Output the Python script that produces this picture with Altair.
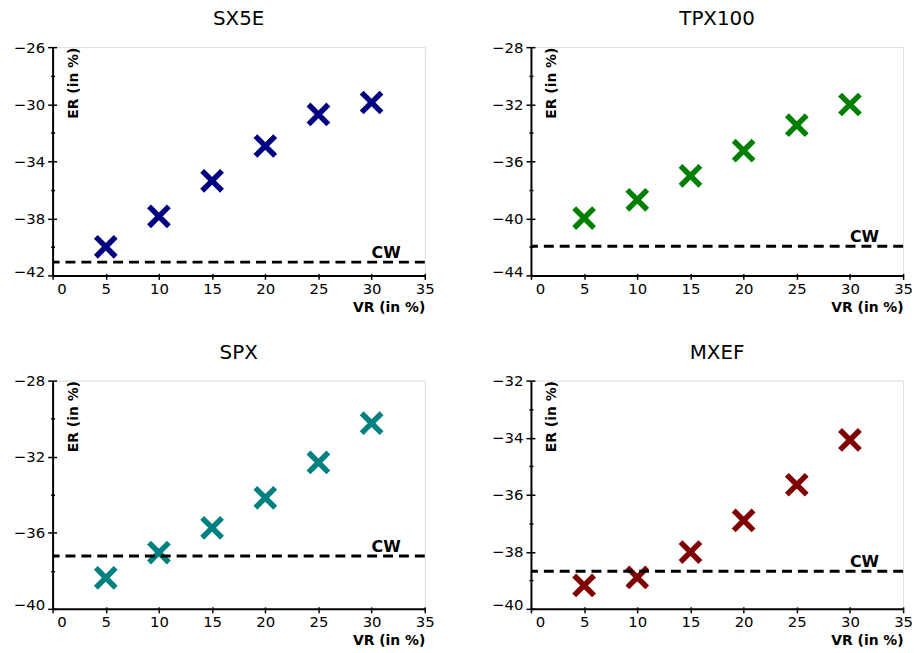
import altair as alt
import pandas as pd

# ---- data ----
vr = [5, 10, 15, 20, 25, 30]
names = ["SX5E", "TPX100", "SPX", "MXEF"]
er_sx5e = [-40.00, -37.86, -35.37, -32.93, -30.72, -29.88]
er_tpx100 = [-39.98, -38.70, -37.02, -35.26, -33.47, -32.02]
er_spx = [-38.37, -37.04, -35.74, -34.16, -32.30, -30.24]
er_mxef = [-39.18, -38.90, -38.01, -36.90, -35.65, -34.08]
cw_values = [-41.07, -41.95, -37.22, -38.68]
cw_label = "CW"
cw_label_x = 30
colors = ["#000080", "#008000", "#008080", "#800000"]

x_domain = [0, 35]
x_ticks = [0, 5, 10, 15, 20, 25, 30, 35]
y_domains = [[-42, -26], [-44, -28], [-40, -28], [-40, -32]]
y_major = [[-42, -38, -34, -30, -26], [-44, -40, -36, -32, -28],
           [-40, -36, -32, -28], [-40, -38, -36, -34, -32]]
y_minor = [[-40, -36, -32, -28], [-42, -38, -34, -30],
           [-38, -34, -30], [-39, -37, -35, -33]]
x_title = "VR (in %)"
y_title = "ER (in %)"

FONT = "DejaVu Sans"
XSHAPE = "M-1,-1L1,1M-1,1L1,-1"
W, H = 375, 230


def panel(i, er):
    df = pd.DataFrame({"vr": vr, "er": er})
    cw_df = pd.DataFrame({"cw": [cw_values[i]], "lx": [cw_label_x], "label": [cw_label]})
    ydom = y_domains[i]
    majors = y_major[i]
    all_ticks = sorted(y_major[i] + y_minor[i])
    is_major = f"indexof({majors}, datum.value) >= 0"
    xs = alt.Scale(domain=x_domain, nice=False, zero=False)
    ys = alt.Scale(domain=ydom, nice=False, zero=False)

    x_axis = alt.Axis(
        values=x_ticks, orient="bottom", grid=False, labelFlush=False,
        labelOverlap=False,
        labelOffset={"condition": {"test": "datum.value == 0", "value": 9}, "value": 0},
        tickSize=4, tickWidth=1.5, tickColor="black",
        domainColor="black", domainWidth=2,
        labelFont=FONT, labelFontSize=15, labelColor="black", labelPadding=2,
        title=x_title, titleFont=FONT, titleFontSize=14, titleFontWeight="bold",
        titleColor="black", titleAnchor="end", titleAlign="right",
        titleBaseline="middle", titleY=32,
    )
    y_axis = alt.Axis(
        values=all_ticks, orient="left", grid=False, labelFlush=False,
        labelOverlap=False,
        labelExpr=f"{is_major} ? datum.label : ''",
        labelOffset={"condition": {"test": f"datum.value == {ydom[0]}", "value": -4}, "value": 0},
        tickSize={"condition": {"test": is_major, "value": 5}, "value": 2},
        tickWidth=1.5, tickColor="black",
        domainColor="black", domainWidth=2,
        labelFont=FONT, labelFontSize=15, labelColor="black", labelPadding=3,
        title=y_title, titleFont=FONT, titleFontSize=14, titleFontWeight="bold",
        titleColor="black", titleAngle=270, titleX=21, titleY=0,
        titleAlign="right", titleBaseline="middle",
    )
    x_inner = alt.Axis(values=x_ticks, orient="bottom", offset=-2, tickSize=2,
                       tickWidth=1.5, tickColor="black", labels=False,
                       domain=False, grid=False, title=None)
    y_inner_major = alt.Axis(values=majors, orient="left", offset=-4, tickSize=4,
                             tickWidth=1.5, tickColor="black", labels=False,
                             domain=False, grid=False, title=None)
    y_inner_minor = alt.Axis(values=y_minor[i], orient="left", offset=-2, tickSize=2,
                             tickWidth=1.5, tickColor="black", labels=False,
                             domain=False, grid=False, title=None)

    pts = alt.Chart(df).mark_point(
        shape=XSHAPE, filled=False, size=400, strokeWidth=5.5, opacity=1,
        color=colors[i],
    ).encode(
        x=alt.X("vr:Q", scale=xs, axis=x_axis),
        y=alt.Y("er:Q", scale=ys, axis=y_axis),
    )
    rule = alt.Chart(cw_df).mark_rule(
        color="black", strokeWidth=3, strokeDash=[10, 6]
    ).encode(
        y=alt.Y("cw:Q", scale=ys, axis=y_inner_minor),
    )
    txt = alt.Chart(cw_df).mark_text(
        align="left", baseline="alphabetic", dy=-4,
        font=FONT, fontSize=16, fontWeight="bold", color="black",
    ).encode(
        x=alt.X("lx:Q", scale=xs, axis=x_inner),
        y=alt.Y("cw:Q", scale=ys, axis=y_inner_major),
        text="label:N",
    )
    return alt.layer(pts, rule, txt).resolve_axis(
        x="independent", y="independent"
    ).properties(
        width=W, height=H,
        title=alt.TitleParams(names[i], font=FONT, fontSize=20, fontWeight="normal",
                              color="black", offset=11, anchor="middle"),
    )


series = [er_sx5e, er_tpx100, er_spx, er_mxef]
p = [panel(i, s) for i, s in enumerate(series)]

chart = alt.vconcat(
    alt.hconcat(p[0], p[1], spacing=55),
    alt.hconcat(p[2], p[3], spacing=55),
    spacing=27,
).properties(
    padding={"left": 12, "top": 6, "right": 5, "bottom": 5},
).configure_view(strokeWidth=0).configure(background="white")

chart.save("out.html", embed_options={"renderer": "svg", "actions": False})
